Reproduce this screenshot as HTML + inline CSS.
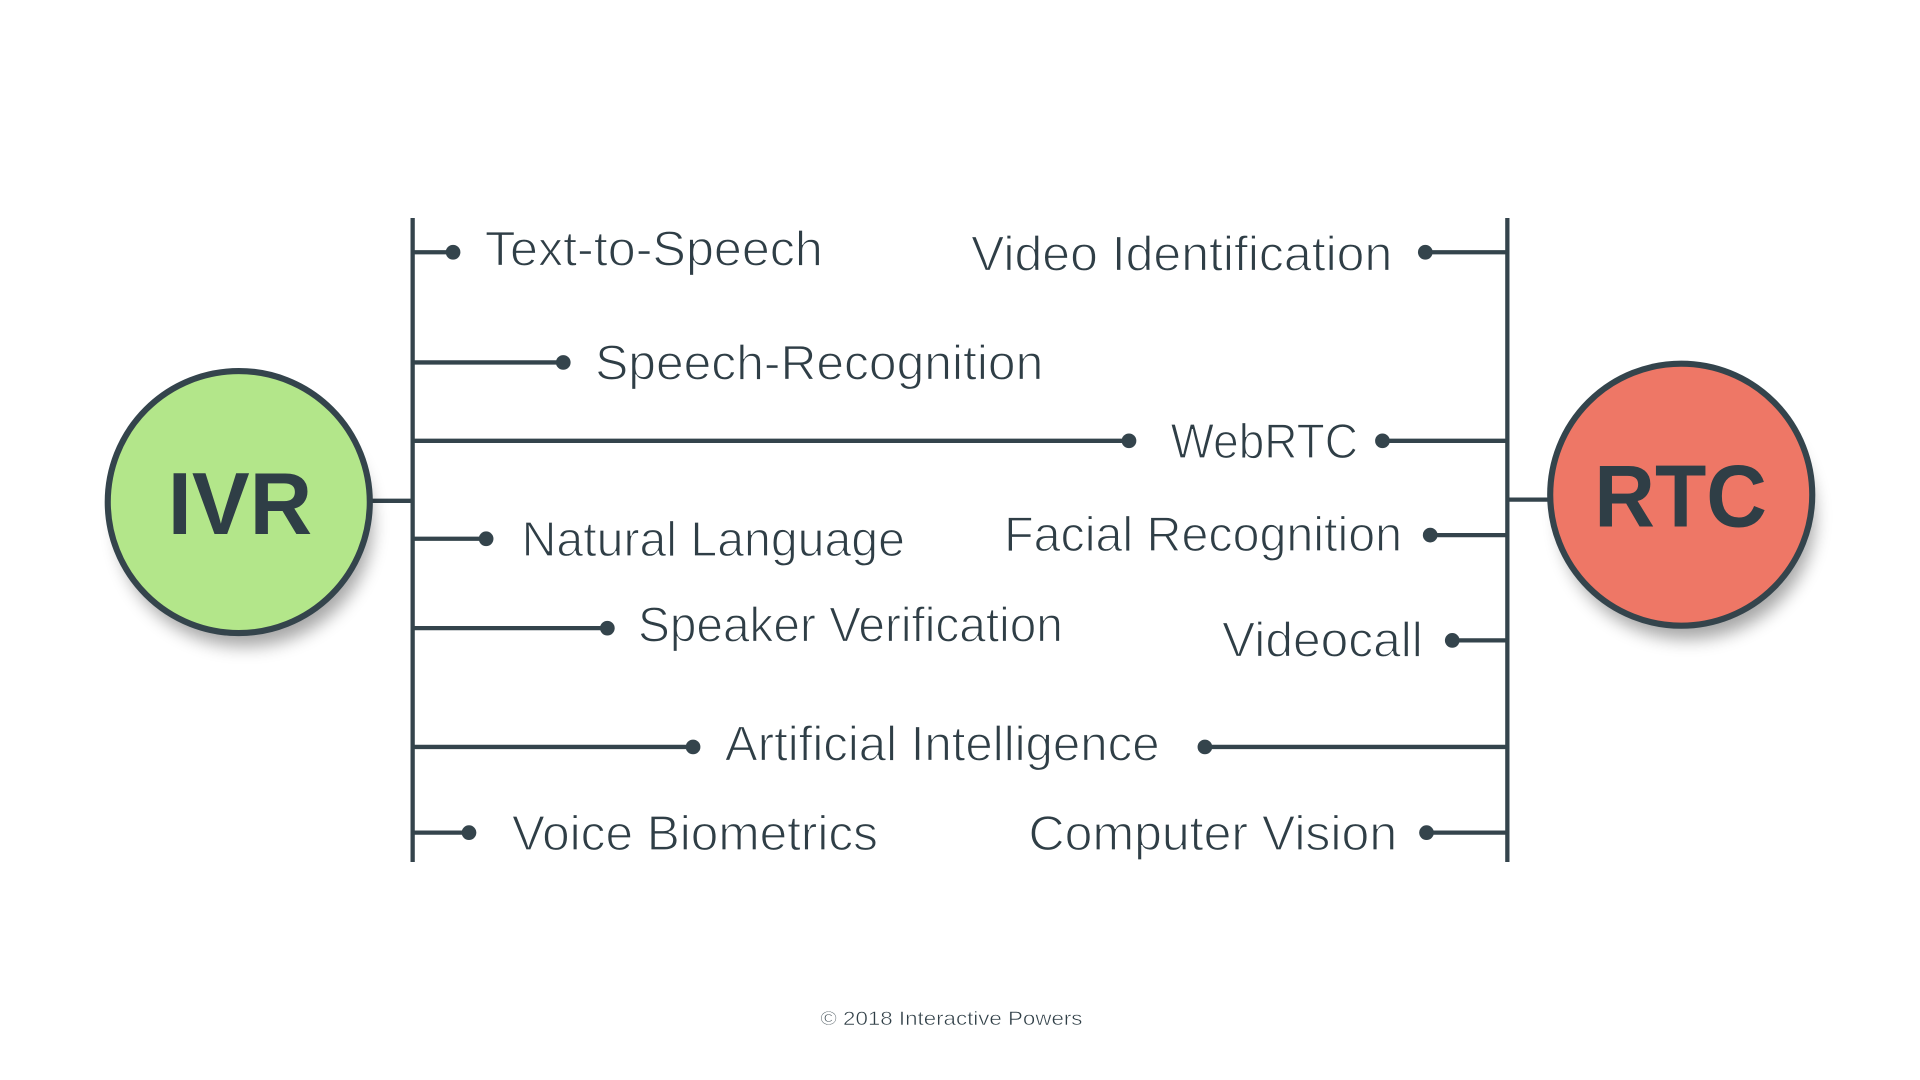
<!DOCTYPE html>
<html><head><meta charset="utf-8"><style>
html,body{margin:0;padding:0;background:#fff;width:1920px;height:1080px;overflow:hidden}
svg{display:block}
text{font-family:"Liberation Sans",sans-serif;fill:#2f3e46}
</style></head><body>
<svg width="1920" height="1080" viewBox="0 0 1568 882" xmlns="http://www.w3.org/2000/svg">
<defs>
<filter id="sh" x="-50%" y="-50%" width="200%" height="200%"><feGaussianBlur stdDeviation="7"/></filter>
</defs>
<rect width="1568" height="882" fill="#fff"/>
<g stroke="#34444c" stroke-width="3.5" fill="none">
<line x1="337" y1="178" x2="337" y2="704"/>
<line x1="1231" y1="178" x2="1231" y2="704"/>
<line x1="300" y1="409" x2="337" y2="409"/>
<line x1="1231" y1="408" x2="1268" y2="408"/>
<line x1="337" y1="206" x2="370" y2="206"/>
<line x1="337" y1="296" x2="460" y2="296"/>
<line x1="337" y1="360" x2="922" y2="360"/>
<line x1="337" y1="440" x2="397" y2="440"/>
<line x1="337" y1="513" x2="496" y2="513"/>
<line x1="337" y1="610" x2="566" y2="610"/>
<line x1="337" y1="680" x2="383" y2="680"/>
<line x1="1164" y1="206" x2="1231" y2="206"/>
<line x1="1129" y1="360" x2="1231" y2="360"/>
<line x1="1168" y1="437" x2="1231" y2="437"/>
<line x1="1186" y1="523" x2="1231" y2="523"/>
<line x1="984" y1="610" x2="1231" y2="610"/>
<line x1="1165" y1="680" x2="1231" y2="680"/>
</g>
<g fill="#34444c">
<circle cx="370" cy="206" r="6"/><circle cx="460" cy="296" r="6"/><circle cx="922" cy="360" r="6"/>
<circle cx="397" cy="440" r="6"/><circle cx="496" cy="513" r="6"/><circle cx="566" cy="610" r="6"/>
<circle cx="383" cy="680" r="6"/><circle cx="1164" cy="206" r="6"/><circle cx="1129" cy="360" r="6"/>
<circle cx="1168" cy="437" r="6"/><circle cx="1186" cy="523" r="6"/><circle cx="984" cy="610" r="6"/>
<circle cx="1165" cy="680" r="6"/>
</g>
<ellipse cx="200" cy="428" rx="104" ry="100" fill="#000" opacity="0.35" filter="url(#sh)"/>
<ellipse cx="1378" cy="422" rx="104" ry="100" fill="#000" opacity="0.35" filter="url(#sh)"/>
<circle cx="195" cy="410" r="107" fill="#b3e68a" stroke="#34444c" stroke-width="5"/>
<circle cx="1373" cy="404" r="107" fill="#ee7766" stroke="#34444c" stroke-width="5"/>
<text x="137" y="436" font-size="72" font-weight="bold" textLength="118" lengthAdjust="spacingAndGlyphs">IVR</text>
<text x="1302" y="430" font-size="72" font-weight="bold" textLength="141" lengthAdjust="spacingAndGlyphs">RTC</text>
<g font-size="40" stroke="#fff" stroke-width="1">
<text x="396" y="217" textLength="276" lengthAdjust="spacingAndGlyphs">Text-to-Speech</text>
<text x="793" y="221" textLength="344" lengthAdjust="spacingAndGlyphs">Video Identification</text>
<text x="486" y="310" textLength="366" lengthAdjust="spacingAndGlyphs">Speech-Recognition</text>
<text x="956" y="374" textLength="153" lengthAdjust="spacingAndGlyphs">WebRTC</text>
<text x="426" y="454" textLength="313" lengthAdjust="spacingAndGlyphs">Natural Language</text>
<text x="820" y="450" textLength="325" lengthAdjust="spacingAndGlyphs">Facial Recognition</text>
<text x="521" y="524" textLength="347" lengthAdjust="spacingAndGlyphs">Speaker Verification</text>
<text x="998" y="536" textLength="164" lengthAdjust="spacingAndGlyphs">Videocall</text>
<text x="592" y="621" textLength="355" lengthAdjust="spacingAndGlyphs">Artificial Intelligence</text>
<text x="418" y="694" textLength="299" lengthAdjust="spacingAndGlyphs">Voice Biometrics</text>
<text x="840" y="694" textLength="301" lengthAdjust="spacingAndGlyphs">Computer Vision</text>
</g>
<text x="670" y="837" font-size="16" textLength="214" lengthAdjust="spacingAndGlyphs" stroke="#fff" stroke-width="0.4">© 2018 Interactive Powers</text>
</svg>
</body></html>
